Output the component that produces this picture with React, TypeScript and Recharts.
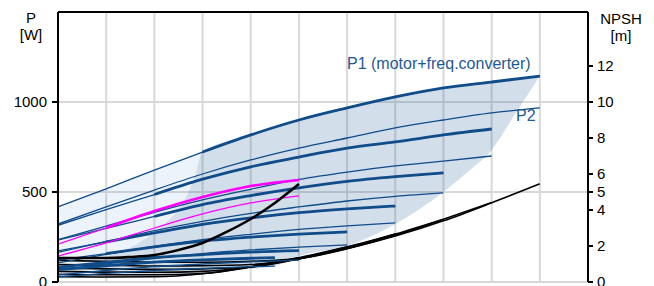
import React from 'react';
import { ComposedChart, Line, Area, XAxis, YAxis, CartesianGrid, ReferenceLine } from 'recharts';

// flow positions (grid units)
const Q10 = [0, 1, 2, 3, 4, 5, 6, 7, 8, 9, 10];
const Q_S7 = [0, 1, 2, 3, 4, 4.5];

// power curves [W] per speed: P1 (motor+freq.converter) and P2
const P1_S1 = [417, 517, 622, 722, 817, 900, 967, 1028, 1078, 1111, 1144];
const P2_S1 = [322, 417, 511, 600, 678, 744, 800, 856, 900, 939, 967];
const P1_S2 = [315, 402, 486, 571, 640, 694, 744, 778, 817, 850];
const P2_S2 = [235, 311, 387, 456, 515, 570, 611, 645, 672, 700];
const P1_S3 = [233, 298, 364, 430, 480, 523, 559, 585, 606];
const P2_S3 = [165, 225, 285, 337, 381, 417, 450, 476, 495];
const P1_S4 = [173, 223, 273, 320, 356, 385, 406, 422];
const P2_S4 = [106, 153, 198, 235, 265, 292, 312, 328];
const P1_S5 = [121, 158, 195, 227, 249, 266, 278];
const P2_S5 = [67, 101, 132, 158, 178, 194, 206];
const P1_S6 = [83, 109, 136, 152, 166, 174];
const P2_S6 = [40, 64, 85, 100, 112, 121];
const P1_S7 = [69, 90, 110, 123, 132, 135];
const P2_S7 = [29, 48, 64, 76, 85, 88];

// selected curve (magenta)
const MAG_Q = [0, 1, 2, 3, 4, 5];
const MAG_P1 = [211, 300, 394, 472, 533, 567];
const MAG_P2 = [144, 217, 300, 378, 439, 478];

// NPSH [m]
const NPSH_S1 = [1.2, 1.15, 1.1, 1.1, 1.15, 1.3, 1.85, 2.55, 3.4, 4.4, 5.45];
const NPSH_S2 = [0.97, 0.93, 0.89, 0.9, 0.97, 1.3, 1.86, 2.6, 3.48, 4.41];
const NPSH_S3 = [0.77, 0.73, 0.7, 0.73, 0.83, 1.28, 1.9, 2.66, 3.49];
const NPSH_S4 = [0.59, 0.55, 0.54, 0.59, 0.83, 1.31, 1.95, 2.67];
const NPSH_S5 = [0.43, 0.4, 0.4, 0.47, 0.83, 1.35, 1.96];
const NPSH_S6 = [0.3, 0.28, 0.29, 0.46, 0.85, 1.36];
const STEEP_Q = [0, 1, 1.5, 2, 2.5, 3, 3.5, 4, 4.5, 5];
const STEEP_N = [1.33, 1.33, 1.39, 1.5, 1.78, 2.17, 2.78, 3.5, 4.39, 5.44];

// shaded regions [W]
const LIGHT_Q = [0, 0.8, 1, 1.4, 1.9, 2.3, 2.65, 2.85, 3];
const LIGHT_LOW = [17, 22, 133, 178, 256, 344, 467, 594, 722];
const LIGHT_HIGH = [417, 497, 517, 559, 612, 652, 687, 707, 722];
const GREY_Q = [0.8, 1, 1.4, 1.9, 2.3, 2.65, 2.85, 3, 4, 4.5, 5, 6, 7, 8, 8.5, 9, 9.5, 10];
const GREY_LOW = [22, 22, 25, 31, 36, 42, 44, 50, 72, 89, 144, 200, 322, 500, 611, 733, 939, 1144];
const GREY_HIGH = [22, 133, 178, 256, 344, 467, 594, 722, 817, 860, 900, 967, 1028, 1078, 1095, 1111, 1128, 1144];

const X_TICKS = [0, 1, 2, 3, 4, 5, 6, 7, 8, 9, 10, 11];
const P_TICKS = [0, 500, 1000];
const N_TICKS = [0, 2, 4, 5, 6, 8, 10, 12];

const W = 654;
const H = 286;
const BLUE = '#0f4c89';
const FONT = '"Liberation Sans", Arial, sans-serif';

const pts = (xs: number[], ys: number[], from = 0) =>
  ys.map((y, i) => ({ x: xs[i], y })).slice(from);
const range = (xs: number[], lo: number[], hi: number[]) =>
  xs.map((x, i) => ({ x, r: [lo[i], hi[i]] }));

const speeds = [
  { p1: P1_S1, p2: P2_S1, q: Q10, thick: 3 },
  { p1: P1_S2, p2: P2_S2, q: Q10, thick: 2 },
  { p1: P1_S3, p2: P2_S3, q: Q10, thick: 2 },
  { p1: P1_S4, p2: P2_S4, q: Q10, thick: 1 },
  { p1: P1_S5, p2: P2_S5, q: Q10, thick: 1 },
  { p1: P1_S6, p2: P2_S6, q: Q10, thick: 0 },
  { p1: P1_S7, p2: P2_S7, q: Q_S7, thick: 0 },
];
const npsh = [NPSH_S1, NPSH_S2, NPSH_S3, NPSH_S4, NPSH_S5, NPSH_S6];

export default function App() {
  const tickStyle = { fontSize: 15, fill: '#000', fontFamily: FONT };
  return (
    <div style={{ position: 'absolute', left: 0, top: 0, width: W, height: H, background: '#fff' }}>
      <ComposedChart width={W} height={H} margin={{ top: 12, right: 0, bottom: 4, left: 0 }}>
        <CartesianGrid yAxisId="P" stroke="#d9d9d9" strokeWidth={2} />
        <XAxis
          type="number"
          dataKey="x"
          domain={[0, 11]}
          ticks={X_TICKS}
          interval={0}
          tick={{ fill: 'transparent', fontSize: 1 }}
          tickLine={false}
          height={0}
          axisLine={{ stroke: '#000', strokeWidth: 2 }}
          allowDataOverflow
        />
        <YAxis
          yAxisId="P"
          orientation="left"
          domain={[0, 1500]}
          ticks={P_TICKS}
          interval={0}
          width={58}
          tickSize={6}
          tickMargin={5}
          tick={tickStyle}
          axisLine={{ stroke: '#000', strokeWidth: 2 }}
          tickLine={{ stroke: '#000', strokeWidth: 2 }}
          allowDataOverflow
        />
        <YAxis
          yAxisId="N"
          orientation="right"
          domain={[0, 15]}
          ticks={N_TICKS}
          interval={0}
          width={66}
          tickSize={5}
          tickMargin={4}
          tick={tickStyle}
          axisLine={{ stroke: '#000', strokeWidth: 2 }}
          tickLine={{ stroke: '#000', strokeWidth: 2 }}
          allowDataOverflow
        />
        <ReferenceLine yAxisId="P" y={1500} stroke="#000" strokeWidth={2} />

        <Area
          yAxisId="P"
          data={range(LIGHT_Q, LIGHT_LOW, LIGHT_HIGH)}
          dataKey="r"
          type="monotone"
          stroke="none"
          fill="#2b7bd0"
          fillOpacity={0.09}
          isAnimationActive={false}
        />
        <Area
          yAxisId="P"
          data={range(GREY_Q, GREY_LOW, GREY_HIGH)}
          dataKey="r"
          type="monotone"
          stroke="none"
          fill="#1f5b96"
          fillOpacity={0.2}
          isAnimationActive={false}
        />

        {npsh.map((n, i) => (
          <Line
            key={'n' + i}
            yAxisId="N"
            data={pts(Q10, n)}
            dataKey="y"
            type="monotone"
            stroke="#000"
            strokeWidth={1.6}
            dot={false}
            activeDot={false}
            isAnimationActive={false}
          />
        ))}
        {speeds.map((s, i) => (
          <Line
            key={'p2' + i}
            yAxisId="P"
            data={pts(s.q, s.p2)}
            dataKey="y"
            type="monotone"
            stroke={BLUE}
            strokeWidth={1.3}
            dot={false}
            activeDot={false}
            isAnimationActive={false}
          />
        ))}
        {speeds.map((s, i) => (
          <Line
            key={'p1t' + i}
            yAxisId="P"
            data={pts(s.q, s.p1)}
            dataKey="y"
            type="monotone"
            stroke={BLUE}
            strokeWidth={1.3}
            dot={false}
            activeDot={false}
            isAnimationActive={false}
          />
        ))}
        {speeds.map((s, i) => (
          <Line
            key={'p1' + i}
            yAxisId="P"
            data={pts(s.q, s.p1, s.thick)}
            dataKey="y"
            type="monotone"
            stroke={BLUE}
            strokeWidth={2.8}
            dot={false}
            activeDot={false}
            isAnimationActive={false}
          />
        ))}
        <Line
          yAxisId="P"
          data={pts(MAG_Q, MAG_P2)}
          dataKey="y"
          type="monotone"
          stroke="#ff00ff"
          strokeWidth={1.3}
          dot={false}
          activeDot={false}
          isAnimationActive={false}
        />
        <Line
          yAxisId="P"
          data={pts(MAG_Q, MAG_P1)}
          dataKey="y"
          type="monotone"
          stroke="#ff00ff"
          strokeWidth={1.3}
          dot={false}
          activeDot={false}
          isAnimationActive={false}
        />
        <Line
          yAxisId="P"
          data={pts(MAG_Q, MAG_P1, 1)}
          dataKey="y"
          type="monotone"
          stroke="#ff00ff"
          strokeWidth={2.6}
          dot={false}
          activeDot={false}
          isAnimationActive={false}
        />
        <Line
          yAxisId="N"
          data={pts(STEEP_Q, STEEP_N)}
          dataKey="y"
          type="monotone"
          stroke="#000"
          strokeWidth={2.6}
          dot={false}
          activeDot={false}
          isAnimationActive={false}
        />
      </ComposedChart>
      <svg
        width={W}
        height={H}
        style={{ position: 'absolute', left: 0, top: 0, pointerEvents: 'none' }}
        fontFamily={FONT}
        fontSize={15}
      >
        <text x={31} y={23} textAnchor="middle" fill="#000">P</text>
        <text x={31} y={40} textAnchor="middle" fill="#000">[W]</text>
        <text x={621} y={24} textAnchor="middle" fill="#000">NPSH</text>
        <text x={621} y={41} textAnchor="middle" fill="#000">[m]</text>
        <text x={347} y={69} fontSize={16} fill="#1f5a92">P1 (motor+freq.converter)</text>
        <text x={516} y={121} fontSize={16} fill="#1f5a92">P2</text>
      </svg>
    </div>
  );
}
